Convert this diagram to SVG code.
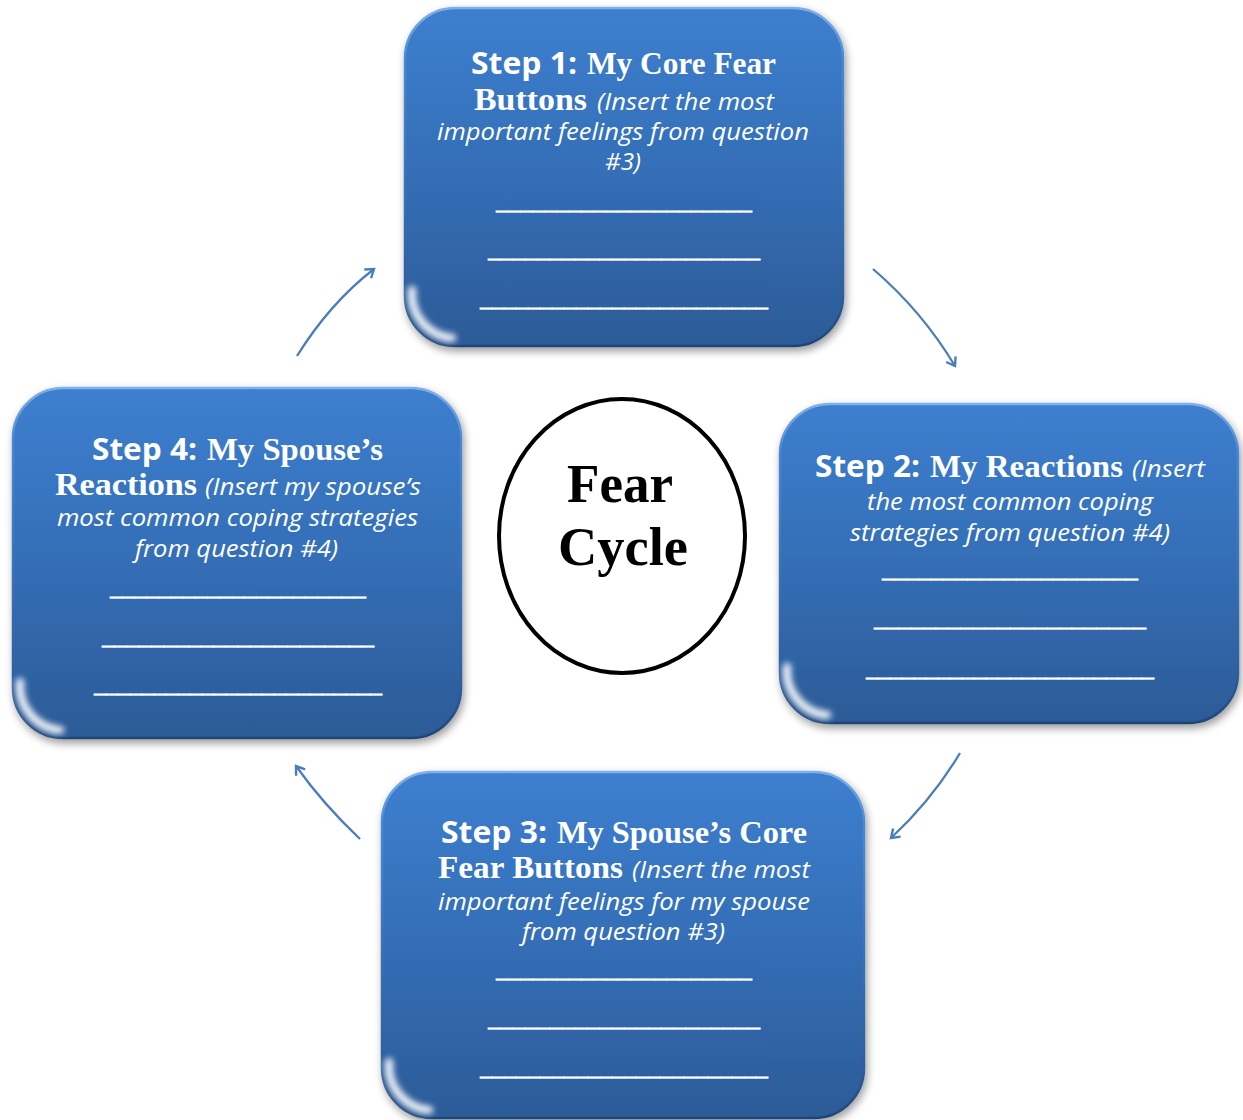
<svg xmlns="http://www.w3.org/2000/svg" width="1243" height="1120" viewBox="0 0 1243 1120">
<defs>
  <linearGradient id="fill" x1="0" y1="0" x2="0" y2="1">
    <stop offset="0" stop-color="#3D7FCF"/>
    <stop offset="0.5" stop-color="#346EB6"/>
    <stop offset="1" stop-color="#2C5B97"/>
  </linearGradient>
  <linearGradient id="edge" x1="0" y1="0" x2="0" y2="1">
    <stop offset="0" stop-color="#7FB0EA"/>
    <stop offset="0.15" stop-color="#4A88D4"/>
    <stop offset="0.85" stop-color="#2E5E9C"/>
    <stop offset="1" stop-color="#1F4474"/>
  </linearGradient>
  <filter id="sh" x="-10%" y="-10%" width="125%" height="125%">
    <feGaussianBlur in="SourceAlpha" stdDeviation="4"/>
    <feOffset dx="2" dy="4" result="b"/>
    <feComponentTransfer><feFuncA type="linear" slope="0.4"/></feComponentTransfer>
    <feMerge><feMergeNode/><feMergeNode in="SourceGraphic"/></feMerge>
  </filter>
  <filter id="glow" x="-50%" y="-50%" width="200%" height="200%">
    <feGaussianBlur stdDeviation="3"/>
  </filter>
  <marker id="ah" markerUnits="userSpaceOnUse" markerWidth="14" markerHeight="14" refX="11" refY="7" viewBox="0 0 14 14" orient="auto">
    <path d="M3,1.5 L11,7 L3,12.5" fill="none" stroke="#4A7EBB" stroke-width="2.4" stroke-linejoin="miter"/>
  </marker>
</defs>
<style>
  .box{fill:url(#fill);stroke:url(#edge);stroke-width:2.5;filter:url(#sh)}
  .gl{fill:none;stroke:#FFFFFF;stroke-width:8;stroke-linecap:round;filter:url(#glow);opacity:0.95}
  .hs{font-family:"Open Sans","Noto Sans",sans-serif;font-weight:700;font-size:31px;fill:#FFFFFF}
  .hr{font-family:"Liberation Serif","Times New Roman",serif;font-weight:700;font-size:32px;fill:#FFFFFF}
  .it{font-family:"Open Sans","Noto Sans",sans-serif;font-style:italic;font-size:23px;fill:#FFFFFF}
  .ul{font-family:"Open Sans","Noto Sans",sans-serif;font-size:23px;fill:#FFFFFF;stroke:#FFFFFF;stroke-width:0.6}
  .fc{font-family:"Liberation Serif","Times New Roman",serif;font-weight:700;font-size:54px;fill:#000000}
  .arr{fill:none;stroke:#4A7EBB;stroke-width:2.3;marker-end:url(#ah)}
</style>
<rect width="1243" height="1120" fill="#FFFFFF"/>

<g id="connectors">
  <path class="arr" d="M873,269 Q922,311 955,366"/>
  <path class="arr" d="M960,753 Q932,800 891,838"/>
  <path class="arr" d="M360,839 Q323,804 296,766"/>
  <path class="arr" d="M297,356 Q330,303 374,269"/>
</g>

<g id="step1">
  <rect class="box" x="405" y="8" width="438" height="338" rx="50" ry="50"/>
  <path class="gl" d="M412,290 A44,44 0 0 0 452,338"/>
  <text class="hs" x="471" y="74" textLength="106" lengthAdjust="spacingAndGlyphs">Step 1:</text>
  <text class="hr" x="587" y="74" textLength="189" lengthAdjust="spacingAndGlyphs">My Core Fear</text>
  <text class="hr" x="474" y="110" textLength="113" lengthAdjust="spacingAndGlyphs">Buttons</text>
  <text class="it" x="597" y="110" textLength="177" lengthAdjust="spacingAndGlyphs">(Insert the most</text>
  <text class="it" x="437" y="140" textLength="372" lengthAdjust="spacingAndGlyphs">important feelings from question</text>
  <text class="it" x="605" y="170" textLength="36" lengthAdjust="spacingAndGlyphs">#3)</text>
  <text class="ul" x="496" y="209" textLength="256" lengthAdjust="spacingAndGlyphs">_____________________</text>
  <text class="ul" x="488" y="257" textLength="272" lengthAdjust="spacingAndGlyphs">______________________</text>
  <text class="ul" x="480" y="306" textLength="288" lengthAdjust="spacingAndGlyphs">________________________</text>
</g>

<g id="step2">
  <rect class="box" x="780" y="404" width="458" height="319" rx="50" ry="50"/>
  <path class="gl" d="M787,667 A44,44 0 0 0 827,715"/>
  <text class="hs" x="815" y="477" textLength="105" lengthAdjust="spacingAndGlyphs">Step 2:</text>
  <text class="hr" x="930" y="477" textLength="193" lengthAdjust="spacingAndGlyphs">My Reactions</text>
  <text class="it" x="1132" y="477" textLength="73" lengthAdjust="spacingAndGlyphs">(Insert</text>
  <text class="it" x="867" y="510" textLength="286" lengthAdjust="spacingAndGlyphs">the most common coping</text>
  <text class="it" x="850" y="541" textLength="320" lengthAdjust="spacingAndGlyphs">strategies from question #4)</text>
  <text class="ul" x="882" y="577" textLength="256" lengthAdjust="spacingAndGlyphs">_____________________</text>
  <text class="ul" x="874" y="626" textLength="272" lengthAdjust="spacingAndGlyphs">______________________</text>
  <text class="ul" x="866" y="676" textLength="288" lengthAdjust="spacingAndGlyphs">________________________</text>
</g>

<g id="step3">
  <rect class="box" x="382" y="772" width="482" height="346" rx="50" ry="50"/>
  <path class="gl" d="M389,1062 A44,44 0 0 0 429,1110"/>
  <text class="hs" x="441" y="843" textLength="106" lengthAdjust="spacingAndGlyphs">Step 3:</text>
  <text class="hr" x="557" y="843" textLength="250" lengthAdjust="spacingAndGlyphs">My Spouse’s Core</text>
  <text class="hr" x="438" y="878" textLength="185" lengthAdjust="spacingAndGlyphs">Fear Buttons</text>
  <text class="it" x="632" y="878" textLength="178" lengthAdjust="spacingAndGlyphs">(Insert the most</text>
  <text class="it" x="438" y="910" textLength="372" lengthAdjust="spacingAndGlyphs">important feelings for my spouse</text>
  <text class="it" x="522" y="940" textLength="203" lengthAdjust="spacingAndGlyphs">from question #3)</text>
  <text class="ul" x="496" y="977" textLength="256" lengthAdjust="spacingAndGlyphs">_____________________</text>
  <text class="ul" x="488" y="1026" textLength="272" lengthAdjust="spacingAndGlyphs">______________________</text>
  <text class="ul" x="480" y="1075" textLength="288" lengthAdjust="spacingAndGlyphs">________________________</text>
</g>

<g id="step4">
  <rect class="box" x="13" y="388" width="448" height="350" rx="50" ry="50"/>
  <path class="gl" d="M20,682 A44,44 0 0 0 60,730"/>
  <text class="hs" x="92" y="460" textLength="105" lengthAdjust="spacingAndGlyphs">Step 4:</text>
  <text class="hr" x="207" y="460" textLength="176" lengthAdjust="spacingAndGlyphs">My Spouse’s</text>
  <text class="hr" x="55" y="495" textLength="142" lengthAdjust="spacingAndGlyphs">Reactions</text>
  <text class="it" x="205" y="495" textLength="216" lengthAdjust="spacingAndGlyphs">(Insert my spouse’s</text>
  <text class="it" x="57" y="526" textLength="361" lengthAdjust="spacingAndGlyphs">most common coping strategies</text>
  <text class="it" x="135" y="557" textLength="203" lengthAdjust="spacingAndGlyphs">from question #4)</text>
  <text class="ul" x="110" y="595" textLength="256" lengthAdjust="spacingAndGlyphs">_____________________</text>
  <text class="ul" x="102" y="644" textLength="272" lengthAdjust="spacingAndGlyphs">______________________</text>
  <text class="ul" x="94" y="692" textLength="288" lengthAdjust="spacingAndGlyphs">________________________</text>
</g>

<g id="fear-cycle">
  <ellipse cx="622" cy="536" rx="123" ry="137" fill="#FFFFFF" stroke="#000000" stroke-width="4"/>
  <text class="fc" x="567" y="502" textLength="106" lengthAdjust="spacingAndGlyphs">Fear</text>
  <text class="fc" x="558" y="565" textLength="130" lengthAdjust="spacingAndGlyphs">Cycle</text>
</g>
</svg>
